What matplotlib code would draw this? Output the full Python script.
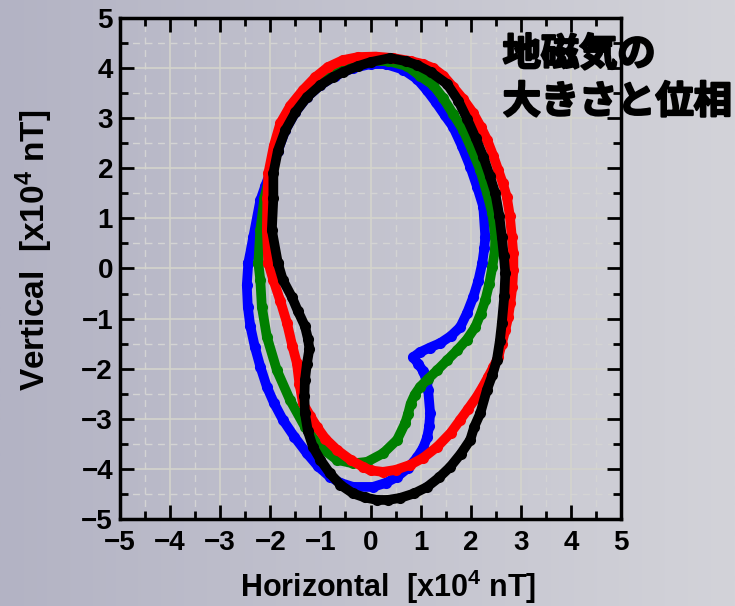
import numpy as np
import matplotlib
matplotlib.use("Agg")
import matplotlib.pyplot as plt
import matplotlib.patheffects as pe
from matplotlib.ticker import MultipleLocator

plt.rcParams['font.family'] = ['Liberation Sans', 'DejaVu Sans']
plt.rcParams['font.weight'] = 'bold'
plt.rcParams['mathtext.fontset'] = 'custom'
plt.rcParams['mathtext.rm'] = 'Liberation Sans:bold'
plt.rcParams['mathtext.it'] = 'Liberation Sans:bold'
plt.rcParams['mathtext.bf'] = 'Liberation Sans:bold'

# 軌跡データ [x10^4 nT] (水平成分, 鉛直成分)
blue_h = [-2.44, -2.34, -2.20, -2.10, -1.97, -1.85, -1.70, -1.50, -1.27, -1.00,
          -0.70, -0.35, 0.00, 0.30, 0.65, 0.93, 1.12, 1.30, 1.48, 1.65, 1.82,
          1.99, 2.13, 2.25, 2.29, 2.27, 2.23, 2.15, 2.05, 1.93, 1.79,
          1.60, 1.39, 1.18, 0.99, 0.85, 0.95, 1.05, 1.12, 1.15, 1.19,
          1.17, 1.13, 1.05, 0.93, 0.75, 0.53, 0.30, 0.05, -0.35, -0.60,
          -0.81, -1.05, -1.27, -1.52, -1.75, -1.93, -2.07, -2.20, -2.31, -2.40,
          -2.45, -2.47, -2.44]
blue_v = [0.11, 0.63, 1.36, 1.65, 2.00, 2.35, 2.76, 3.12, 3.42, 3.66,
          3.85, 4.00, 4.08, 4.08, 3.97, 3.78, 3.56, 3.32, 3.06, 2.82, 2.45,
          2.03, 1.62, 1.23, 0.63, 0.40, 0.11, -0.25, -0.57, -0.88, -1.17,
          -1.35, -1.49, -1.58, -1.67, -1.77, -1.90, -2.05, -2.25, -2.43, -2.89,
          -3.15, -3.37, -3.58, -3.77, -3.98, -4.16, -4.28, -4.36, -4.36, -4.28,
          -4.16, -3.95, -3.69, -3.36, -3.02, -2.68, -2.36, -1.96, -1.56, -1.15,
          -0.76, -0.33, 0.11]

green_h = [-2.24, -2.20, -2.12, -2.00, -1.88, -1.75, -1.55, -1.30, -1.03, -0.75,
           -0.40, 0.00, 0.35, 0.73, 0.99, 1.25, 1.45, 1.65, 1.85, 2.02,
           2.19, 2.32, 2.43, 2.49, 2.48, 2.43, 2.37, 2.29, 2.20, 2.09,
           1.92, 1.73, 1.53, 1.33, 1.15, 0.99, 0.88, 0.80, 0.75, 0.69,
           0.53, 0.25, -0.07, -0.35, -0.67, -1.01, -1.31, -1.61, -1.87, -2.07,
           -2.17, -2.20, -2.24]
green_v = [0.11, 0.77, 1.40, 1.90, 2.40, 2.80, 3.17, 3.47, 3.72, 3.90,
           4.06, 4.14, 4.14, 4.04, 3.84, 3.66, 3.40, 3.08, 2.76, 2.38,
           1.96, 1.52, 1.10, 0.63, 0.35, 0.03, -0.30, -0.63, -0.90, -1.17,
           -1.42, -1.63, -1.83, -2.03, -2.20, -2.36, -2.52, -2.70, -2.90, -3.09,
           -3.42, -3.69, -3.86, -3.89, -3.82, -3.56, -3.16, -2.62, -2.03, -1.36,
           -0.76, -0.23, 0.11]

red_h = [-2.04, -2.07, -2.06, -2.04, -1.93, -1.80, -1.60, -1.35, -1.10, -0.85,
         -0.55, -0.25, 0.10, 0.45, 0.80, 1.05, 1.25, 1.45, 1.65, 1.85,
         2.05, 2.20, 2.33, 2.45, 2.55, 2.64, 2.72, 2.78, 2.82, 2.85,
         2.85, 2.83, 2.79, 2.75, 2.69, 2.62, 2.55, 2.45, 2.35, 2.24,
         2.12, 1.95, 1.79, 1.60, 1.33, 1.05, 0.79, 0.50, 0.25, 0.00,
         -0.15, -0.40, -0.67, -0.90, -1.07, -1.20, -1.35, -1.42, -1.47, -1.56,
         -1.67, -1.80, -1.94, -2.04]
red_v = [0.11, 0.77, 1.40, 1.90, 2.45, 2.90, 3.25, 3.56, 3.82, 4.02,
         4.16, 4.22, 4.23, 4.20, 4.14, 4.08, 4.00, 3.85, 3.62, 3.38,
         3.10, 2.83, 2.56, 2.25, 1.96, 1.70, 1.43, 1.05, 0.63, 0.30,
         -0.03, -0.36, -0.69, -0.96, -1.23, -1.50, -1.77, -1.97, -2.16, -2.36,
         -2.56, -2.80, -3.02, -3.28, -3.56, -3.78, -3.92, -4.02, -4.06, -4.03,
         -3.96, -3.82, -3.62, -3.40, -3.16, -2.95, -2.69, -2.30, -1.89, -1.55,
         -1.08, -0.65, -0.23, 0.11]

black_h = [-1.85, -1.97, -1.94, -1.94, -1.85, -1.70, -1.50, -1.27, -1.00, -0.75,
           -0.55, -0.25, 0.00, 0.39, 0.70, 0.93, 1.20, 1.53, 1.75, 1.93,
           2.10, 2.25, 2.38, 2.49, 2.57, 2.62, 2.66, 2.69, 2.67, 2.62,
           2.58, 2.52, 2.43, 2.32, 2.19, 2.07, 1.99, 1.80, 1.59, 1.37,
           1.13, 0.87, 0.59, 0.35, 0.13, -0.12, -0.35, -0.60, -0.81, -1.00,
           -1.15, -1.25, -1.31, -1.32, -1.31, -1.27, -1.22, -1.25, -1.31, -1.45,
           -1.57, -1.75, -1.85]
black_v = [0.11, 0.77, 1.40, 1.90, 2.35, 2.76, 3.12, 3.42, 3.66, 3.82,
           3.92, 4.04, 4.12, 4.20, 4.14, 4.06, 3.92, 3.68, 3.35, 2.98,
           2.60, 2.23, 1.85, 1.50, 1.05, 0.63, 0.25, -0.09, -0.55, -1.09,
           -1.45, -1.83, -2.13, -2.43, -2.89, -3.16, -3.42, -3.70, -3.96, -4.17,
           -4.36, -4.49, -4.58, -4.62, -4.62, -4.57, -4.49, -4.32, -4.09, -3.82,
           -3.56, -3.25, -2.89, -2.55, -2.23, -1.90, -1.60, -1.40, -1.15, -0.85,
           -0.57, -0.23, 0.11]

curves = [(blue_h, blue_v, '#0000ff'),
          (green_h, green_v, '#008000'),
          (red_h, red_v, '#ff0000'),
          (black_h, black_v, '#000000')]

fig = plt.figure(figsize=(7.35, 6.06), dpi=100)

# 背景のグラデーション
bg = fig.add_axes([0, 0, 1, 1], zorder=-10)
grad = np.linspace(0, 1, 256)[None, :]
bg.imshow(grad, aspect='auto', extent=[0, 1, 0, 1],
          cmap=matplotlib.colors.LinearSegmentedColormap.from_list(
              'bg', ['#b3b3c4', '#d3d3d9']))
bg.axis('off')

ax = fig.add_axes([0.1633, 0.1436, 0.6817, 0.8267])
ax.set_facecolor('none')

for h, v, c in curves:
    ax.plot(h, v, '-o', color=c, lw=7, ms=8, mew=0,
            solid_joinstyle='round', solid_capstyle='round')

ax.set_xlim(-5, 5)
ax.set_ylim(-5, 5)
ax.xaxis.set_major_locator(MultipleLocator(1))
ax.yaxis.set_major_locator(MultipleLocator(1))
ax.xaxis.set_minor_locator(MultipleLocator(0.5))
ax.yaxis.set_minor_locator(MultipleLocator(0.5))
ax.grid(True, which='major', color='#d4d4cc', lw=1.2, zorder=0)
ax.grid(True, which='minor', color='#d4d4d4', lw=1.0, ls=(0, (5, 4)), zorder=0)
ax.set_axisbelow(True)

ax.tick_params(which='both', direction='in', top=True, right=True, width=2,
               labelsize=20)
ax.tick_params(axis='x', pad=8)
ax.tick_params(axis='y', pad=5)
ax.tick_params(which='major', length=10)
ax.tick_params(which='minor', length=6)
for s in ax.spines.values():
    s.set_linewidth(2.5)

ticks = [-5, -4, -3, -2, -1, 0, 1, 2, 3, 4, 5]
labels = [str(t).replace('-', '\u2212') for t in ticks]
ax.set_xticks(ticks, labels)
ax.set_yticks(ticks, labels)
for lab in ax.get_xticklabels() + ax.get_yticklabels():
    lab.set_fontweight('bold')

ax.set_xlabel('Horizontal  [x10$^4$ nT]', fontsize=22, fontweight='bold')
ax.set_ylabel('Vertical  [x10$^4$ nT]', fontsize=24, fontweight='bold')
ax.xaxis.set_label_coords(0.535, -0.097)
ax.yaxis.set_label_coords(-0.13, 0.537)

fig.text(0.684, 0.943, '地磁気の\n大きさと位相', fontsize=27.5, fontweight='bold',
         family=['Noto Sans CJK JP', 'DejaVu Sans'], va='top', ha='left',
         linespacing=1.28,
         path_effects=[pe.withStroke(linewidth=1.6, foreground='black')])

fig.savefig('out.png', dpi=100)
